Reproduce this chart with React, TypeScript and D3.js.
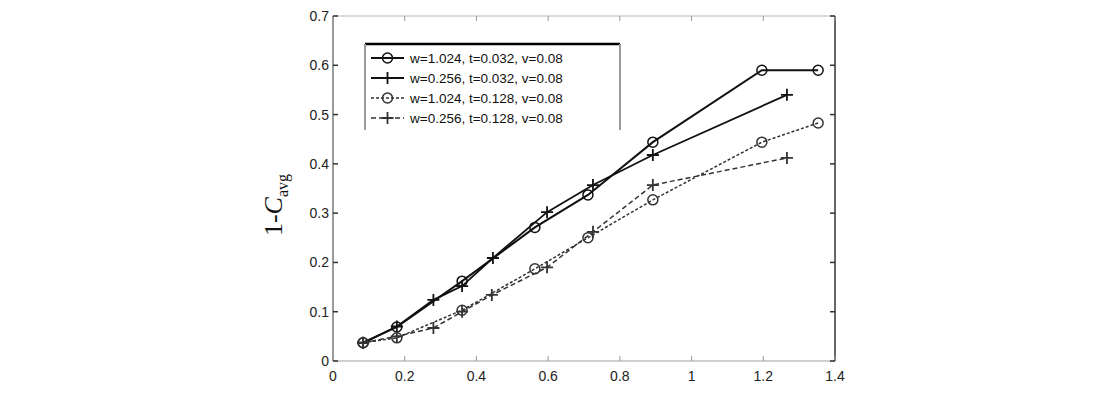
import React from "react";
import * as d3 from "d3";

const xTicks = [0, 0.2, 0.4, 0.6, 0.8, 1, 1.2, 1.4];
const xTickLabels = ["0", "0.2", "0.4", "0.6", "0.8", "1", "1.2", "1.4"];
const yTicks = [0, 0.1, 0.2, 0.3, 0.4, 0.5, 0.6, 0.7];
const yTickLabels = ["0", "0.1", "0.2", "0.3", "0.4", "0.5", "0.6", "0.7"];

const s1x = [0.084, 0.178, 0.36, 0.563, 0.711, 0.892, 1.196, 1.353];
const s1y = [0.037, 0.069, 0.162, 0.271, 0.337, 0.444, 0.59, 0.59];
const s2x = [0.084, 0.178, 0.28, 0.36, 0.446, 0.597, 0.725, 0.892, 1.266];
const s2y = [0.037, 0.07, 0.124, 0.152, 0.209, 0.302, 0.357, 0.418, 0.54];
const s3x = [0.084, 0.178, 0.36, 0.563, 0.711, 0.892, 1.196, 1.353];
const s3y = [0.037, 0.047, 0.103, 0.187, 0.25, 0.327, 0.444, 0.483];
const s4x = [0.084, 0.178, 0.28, 0.36, 0.443, 0.597, 0.725, 0.892, 1.266];
const s4y = [0.037, 0.05, 0.067, 0.1, 0.134, 0.19, 0.262, 0.357, 0.412];

const legendLabels = [
  "w=1.024, t=0.032, v=0.08",
  "w=0.256, t=0.032, v=0.08",
  "w=1.024, t=0.128, v=0.08",
  "w=0.256, t=0.128, v=0.08",
];

const X0 = 333, X1 = 835, Y0 = 361, Y1 = 16;

export default function App() {
  const x = d3.scaleLinear().domain([0, 1.4]).range([X0, X1]);
  const y = d3.scaleLinear().domain([0, 0.7]).range([Y0, Y1]);
  const series = [
    { xs: s1x, ys: s1y, marker: "o", color: "#111", width: 2, dash: "" },
    { xs: s2x, ys: s2y, marker: "+", color: "#111", width: 1.8, dash: "" },
    { xs: s3x, ys: s3y, marker: "o", color: "#333", width: 1.5, dash: "3,2" },
    { xs: s4x, ys: s4y, marker: "+", color: "#333", width: 1.5, dash: "5,3" },
  ];
  const line = d3.line<[number, number]>().x((d) => x(d[0])).y((d) => y(d[1]));
  const marker = (m: string, cx: number, cy: number, color: string, key: string) =>
    m === "o" ? (
      <circle key={key} cx={cx} cy={cy} r={5} fill="none" stroke={color} strokeWidth={1.5} />
    ) : (
      <path key={key} d={`M${cx - 6},${cy}H${cx + 6}M${cx},${cy - 6}V${cy + 6}`} stroke={color} strokeWidth={1.8} />
    );
  const gray = "#9a9a9a";
  const font = "Arial, 'Liberation Sans', sans-serif";
  return (
    <svg width={1100} height={400} style={{ position: "absolute", left: 0, top: 0 }}>
      <rect width={1100} height={400} fill="#fff" />
      <line x1={X0} x2={X1} y1={Y1} y2={Y1} stroke="#cfcfcf" strokeWidth={1.5} />
      <line x1={X0} x2={X1} y1={Y0} y2={Y0} stroke="#cfcfcf" strokeWidth={2} />
      <line x1={X0} x2={X0} y1={Y0} y2={Y1} stroke={gray} strokeWidth={2} />
      <line x1={X1} x2={X1} y1={Y0} y2={Y1} stroke="#333" strokeWidth={1.5} />
      {xTicks.map((t, i) => (
        <g key={"xt" + i}>
          <line x1={x(t)} x2={x(t)} y1={Y0} y2={Y0 - 5} stroke="#999" />
          <line x1={x(t)} x2={x(t)} y1={Y1} y2={Y1 + 5} stroke="#999" />
          <text x={x(t)} y={Y0 + 20} textAnchor="middle" fontFamily={font} fontSize={14} fill="#222">
            {xTickLabels[i]}
          </text>
        </g>
      ))}
      {yTicks.map((t, i) => (
        <g key={"yt" + i}>
          <line x1={X0} x2={X0 + 5} y1={y(t)} y2={y(t)} stroke="#333" strokeWidth={1.5} />
          <line x1={X1} x2={X1 - 5} y1={y(t)} y2={y(t)} stroke="#333" strokeWidth={1.5} />
          <text x={X0 - 4} y={y(t) + 5} textAnchor="end" fontFamily={font} fontSize={14} fill="#222">
            {yTickLabels[i]}
          </text>
        </g>
      ))}
      <text transform="translate(282,205) rotate(-90)" textAnchor="middle" fontFamily="'Liberation Serif', 'DejaVu Serif', serif" fontSize={26} fill="#111">
        1-<tspan fontStyle="italic">C</tspan>
        <tspan fontSize={16} dy={6}>avg</tspan>
      </text>
      {series.map((s, i) => {
        const pts = s.xs.map((v, j) => [v, s.ys[j]] as [number, number]);
        return (
          <g key={"s" + i}>
            <path d={line(pts) || ""} fill="none" stroke={s.color} strokeWidth={s.width} strokeDasharray={s.dash} />
            {pts.map((p, j) => marker(s.marker, x(p[0]), y(p[1]), s.color, `m${i}-${j}`))}
          </g>
        );
      })}
      <rect x={365} y={44} width={255} height={86} fill="#fff" stroke="none" />
      <line x1={365} x2={620} y1={44} y2={44} stroke="#000" strokeWidth={2.5} />
      <line x1={365} x2={365} y1={44} y2={130} stroke={gray} strokeWidth={2} />
      <line x1={620} x2={620} y1={44} y2={130} stroke={gray} strokeWidth={2} />
      {series.map((s, i) => {
        const ly = 58 + i * 20;
        return (
          <g key={"lg" + i}>
            <line x1={371} x2={404} y1={ly} y2={ly} stroke={s.color} strokeWidth={s.width} strokeDasharray={s.dash} />
            {marker(s.marker, 387.5, ly, s.color, "lm" + i)}
            <text x={410} y={ly + 5} fontFamily={font} fontSize={13.5} fill="#111">
              {legendLabels[i]}
            </text>
          </g>
        );
      })}
    </svg>
  );
}
